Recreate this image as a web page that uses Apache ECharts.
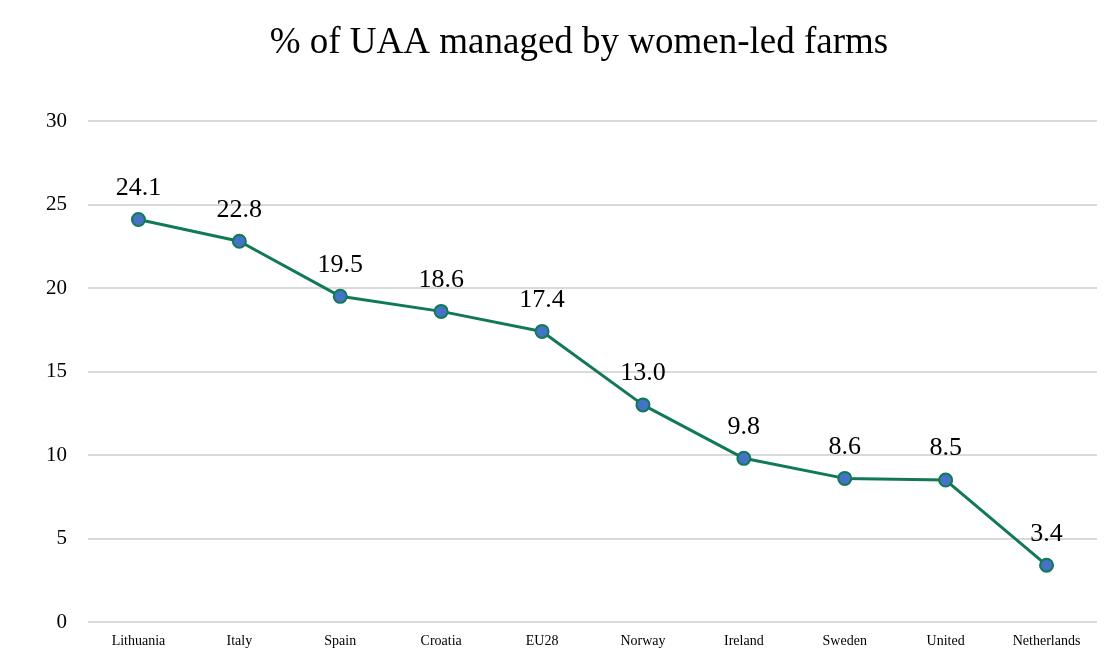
<!DOCTYPE html>
<html>
<head>
<meta charset="utf-8">
<script src="https://cdn.jsdelivr.net/npm/echarts@6/dist/echarts.min.js"></script>
<style>
  html, body { margin: 0; padding: 0; background: #fff; }
  #main { width: 1112px; height: 650px; }
</style>
</head>
<body>
<div id="main"></div>
<script>
const countries = ['Lithuania', 'Italy', 'Spain', 'Croatia', 'EU28', 'Norway', 'Ireland', 'Sweden', 'United', 'Netherlands'];
const shareUAA = [24.1, 22.8, 19.5, 18.6, 17.4, 13.0, 9.8, 8.6, 8.5, 3.4];

const serif = '"Liberation Serif", "DejaVu Serif", serif';

var myChart = echarts.init(document.getElementById('main'));
myChart.setOption({
  backgroundColor: '#fff',
  title: {
    text: '% of UAA managed by women-led farms',
    left: 574,
    textAlign: 'center',
    top: 20,
    textStyle: { fontFamily: serif, fontSize: 37, fontWeight: 'normal', color: '#000' }
  },
  grid: { left: 88, right: 15, top: 121, bottom: 28 },
  xAxis: {
    type: 'category',
    data: countries,
    axisLine: { show: false },
    axisTick: { show: false },
    axisLabel: { fontFamily: serif, fontSize: 14, color: '#000', margin: 12, interval: 0 }
  },
  yAxis: {
    type: 'value',
    min: 0,
    max: 30,
    interval: 5,
    axisLine: { show: false },
    axisTick: { show: false },
    axisLabel: { fontFamily: serif, fontSize: 21, color: '#000', margin: 21 },
    splitLine: { lineStyle: { color: '#d9d9d9', width: 2 } }
  },
  series: [
    {
      type: 'line',
      data: shareUAA,
      symbol: 'circle',
      symbolSize: 13,
      lineStyle: { color: '#117a55', width: 3 },
      itemStyle: { color: '#4472c4', borderColor: '#117a55', borderWidth: 2 },
      label: {
        show: true,
        position: 'top',
        distance: 11,
        formatter: p => p.value.toFixed(1),
        fontFamily: serif,
        fontSize: 26,
        color: '#000'
      }
    }
  ]
});
</script>
</body>
</html>
